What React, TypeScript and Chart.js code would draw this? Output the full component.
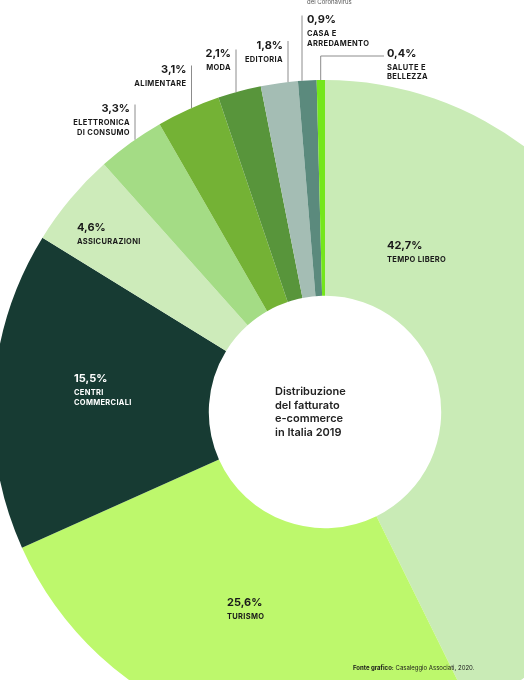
import React, { useEffect, useRef } from 'react';
import { Chart, registerables } from 'chart.js';

Chart.register(...registerables);

// ---- data ----
const categories = [
  'Tempo libero',
  'Turismo',
  'Centri commerciali',
  'Assicurazioni',
  'Elettronica di consumo',
  'Alimentare',
  'Moda',
  'Editoria',
  'Casa e arredamento',
  'Salute e bellezza',
];
const shares = [42.7, 25.6, 15.5, 4.6, 3.3, 3.1, 2.1, 1.8, 0.9, 0.4];
const labelLines = [
  ['TEMPO LIBERO'],
  ['TURISMO'],
  ['CENTRI', 'COMMERCIALI'],
  ['ASSICURAZIONI'],
  ['ELETTRONICA', 'DI CONSUMO'],
  ['ALIMENTARE'],
  ['MODA'],
  ['EDITORIA'],
  ['CASA E', 'ARREDAMENTO'],
  ['SALUTE E', 'BELLEZZA'],
];
const titleLines = ['Distribuzione', 'del fatturato', 'e-commerce', 'in Italia 2019'];
const topNote = 'del Coronavirus';
const sourceBold = 'Fonte grafico:';
const sourceText = ' Casaleggio Associati, 2020.';

// ---- styles ----
const colors = [
  '#c9ebb6',
  '#bdf86c',
  '#173b33',
  '#cdebba',
  '#a4dc85',
  '#74b235',
  '#58953b',
  '#a4bdb4',
  '#5b8a7d',
  '#74e61c',
];

// label layout (page pixels)
const labelLayout: any[] = [
  { kind: 'in', x: 387, y: 246, color: '#1a1a1a' },
  { kind: 'in', x: 227, y: 603, color: '#1a1a1a' },
  { kind: 'in', x: 74, y: 378.5, color: '#ffffff' },
  { kind: 'in', x: 77, y: 228, color: '#1a1a1a' },
  { kind: 'out', lineX: 135, y: 109, align: 'right' },
  { kind: 'out', lineX: 191.5, y: 70, align: 'right' },
  { kind: 'out', lineX: 236, y: 54, align: 'right' },
  { kind: 'out', lineX: 288, y: 45.5, align: 'right' },
  { kind: 'out', lineX: 302, y: 20, align: 'left' },
  { kind: 'elbow', lineX: 320.7, elbowY: 56, textX: 387, y: 53.5 },
];

const FONT = 'Inter, "Noto Sans", sans-serif';

function fmt(v: number) {
  return v.toFixed(1).replace('.', ',') + '%';
}

const labelPlugin = {
  id: 'labelPlugin',
  afterDatasetsDraw(chart: any) {
    const ctx: CanvasRenderingContext2D = chart.ctx;
    const meta = chart.getDatasetMeta(0);
    const arcs = meta.data;
    if (!arcs.length) return;
    const a0 = arcs[0];
    const cx = a0.x;
    const cy = a0.y;
    const R = a0.outerRadius;

    ctx.save();
    ctx.textBaseline = 'middle';

    labelLayout.forEach((lay, i) => {
      const pct = fmt(shares[i]);
      const lines = labelLines[i];
      if (lay.kind === 'in') {
        ctx.fillStyle = lay.color;
        ctx.textAlign = 'left';
        ctx.font = `700 11px ${FONT}`;
        (ctx as any).letterSpacing = '0px';
        ctx.fillText(pct, lay.x, lay.y);
        ctx.font = `700 7.5px ${FONT}`;
        (ctx as any).letterSpacing = '0.3px';
        lines.forEach((t, j) => ctx.fillText(t, lay.x, lay.y + 14 + j * 10));
      } else {
        const lx = lay.lineX;
        const arcY = cy - Math.sqrt(Math.max(R * R - (lx - cx) * (lx - cx), 0));
        ctx.strokeStyle = '#8c8c8c';
        ctx.lineWidth = 1;
        ctx.beginPath();
        if (lay.kind === 'out') {
          ctx.moveTo(lx, lay.y - 4.5);
          ctx.lineTo(lx, arcY);
        } else {
          ctx.moveTo(lay.textX - 3, lay.elbowY);
          ctx.lineTo(lx, lay.elbowY);
          ctx.lineTo(lx, arcY);
        }
        ctx.stroke();

        let tx: number;
        if (lay.kind === 'out') {
          ctx.textAlign = lay.align;
          tx = lay.align === 'right' ? lx - 5 : lx + 5;
        } else {
          ctx.textAlign = 'left';
          tx = lay.textX;
        }
        ctx.fillStyle = '#1a1a1a';
        ctx.font = `700 11px ${FONT}`;
        (ctx as any).letterSpacing = '0px';
        ctx.fillText(pct, tx, lay.y);
        ctx.font = `700 7.5px ${FONT}`;
        (ctx as any).letterSpacing = '0.35px';
        lines.forEach((t, j) => ctx.fillText(t, tx, lay.y + 14 + j * 9.5));
      }
    });

    // centre title
    (ctx as any).letterSpacing = '0px';
    ctx.textAlign = 'left';
    ctx.fillStyle = '#222222';
    ctx.font = `600 11px ${FONT}`;
    titleLines.forEach((t, j) => ctx.fillText(t, cx - 50, cy - 20 + j * 13.5));

    // top cut note
    ctx.font = `400 6px ${FONT}`;
    ctx.fillStyle = '#555555';
    ctx.textBaseline = 'alphabetic';
    ctx.fillText(topNote, 307, 3.5);

    // source
    ctx.fillStyle = '#1a1a1a';
    ctx.font = `700 6px ${FONT}`;
    ctx.fillText(sourceBold, 353, 670);
    const w = ctx.measureText(sourceBold).width;
    ctx.font = `400 6px ${FONT}`;
    ctx.fillText(sourceText, 353 + w, 670);

    ctx.restore();
  },
};

export default function App() {
  const ref = useRef<HTMLCanvasElement | null>(null);

  useEffect(() => {
    if (!ref.current) return;
    const chart = new Chart(ref.current, {
      type: 'doughnut',
      data: {
        labels: categories,
        datasets: [
          {
            data: shares,
            backgroundColor: colors,
            borderWidth: 0,
            clip: false,
            radius: 332,
            cutout: '35%',
          } as any,
        ],
      },
      options: {
        animation: false,
        responsive: false,
        maintainAspectRatio: false,
        events: [],
        layout: { padding: { left: 126, right: 0, top: 144, bottom: 0 } },
        plugins: {
          legend: { display: false },
          tooltip: { enabled: false },
        },
      } as any,
      plugins: [labelPlugin],
    });
    return () => chart.destroy();
  }, []);

  return (
    <div
      style={{
        position: 'absolute',
        left: 0,
        top: 0,
        width: 524,
        height: 680,
        overflow: 'hidden',
        background: '#ffffff',
      }}
    >
      <canvas ref={ref} width={524} height={680} style={{ display: 'block', width: 524, height: 680 }} />
    </div>
  );
}
